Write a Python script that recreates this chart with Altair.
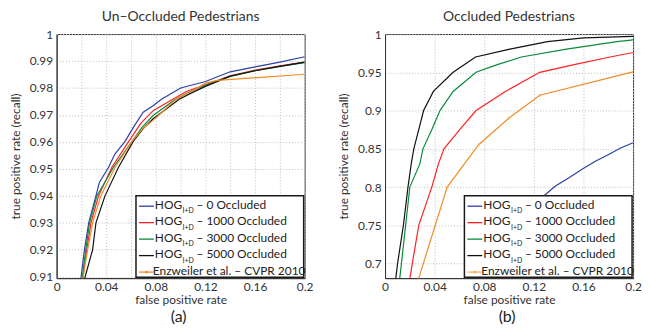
import altair as alt
import pandas as pd

FONT = "Lato"

series_names = [
    "HOG I+D – 0 Occluded",
    "HOG I+D – 1000 Occluded",
    "HOG I+D – 3000 Occluded",
    "HOG I+D – 5000 Occluded",
    "Enzweiler et al. – CVPR 2010",
]
legend_rest = ["– 0 Occluded", "– 1000 Occluded", "– 3000 Occluded", "– 5000 Occluded"]
legend_last = "Enzweiler et al. – CVPR 2010"

# ---------- (a) Un-Occluded Pedestrians ----------
a_blue_x = [0.0195, 0.0224, 0.0259, 0.0317, 0.0345, 0.042, 0.047, 0.0553, 0.062, 0.0698, 0.0778, 0.0845, 0.1, 0.12, 0.14, 0.16, 0.18, 0.2]
a_blue_y = [0.909, 0.92, 0.93, 0.94, 0.945, 0.9507, 0.9555, 0.9603, 0.9655, 0.971, 0.9734, 0.9758, 0.98, 0.9824, 0.986, 0.9878, 0.9896, 0.9916]
a_red_x = [0.021, 0.0243, 0.0277, 0.0338, 0.0447, 0.0579, 0.068, 0.0778, 0.0937, 0.105, 0.12, 0.14, 0.16, 0.18, 0.2]
a_red_y = [0.909, 0.92, 0.93, 0.94, 0.9507, 0.96, 0.967, 0.9716, 0.9758, 0.9788, 0.9812, 0.9845, 0.9866, 0.9882, 0.9896]
a_green_x = [0.0205, 0.0235, 0.0265, 0.0325, 0.046, 0.0606, 0.069, 0.0778, 0.095, 0.107, 0.12, 0.14, 0.16, 0.18, 0.2]
a_green_y = [0.909, 0.92, 0.93, 0.94, 0.9507, 0.96, 0.9655, 0.9698, 0.9755, 0.9785, 0.981, 0.9843, 0.9864, 0.988, 0.9894]
a_black_x = [0.0224, 0.029, 0.0317, 0.039, 0.05, 0.0619, 0.07, 0.0778, 0.0989, 0.108, 0.12, 0.14, 0.16, 0.18, 0.2]
a_black_y = [0.909, 0.92, 0.93, 0.94, 0.9507, 0.9603, 0.965, 0.9686, 0.9758, 0.978, 0.9806, 0.9844, 0.9864, 0.988, 0.9896]
a_orange_x = [0.021, 0.025, 0.029, 0.0356, 0.0473, 0.061, 0.07, 0.0778, 0.0963, 0.11, 0.12, 0.1298, 0.2]
a_orange_y = [0.909, 0.92, 0.93, 0.94, 0.9507, 0.9603, 0.9652, 0.968, 0.9758, 0.979, 0.9818, 0.9828, 0.9851]

# ---------- (b) Occluded Pedestrians ----------
b_blue_x = [0.0712, 0.09, 0.11, 0.1264, 0.1371, 0.148, 0.1595, 0.17, 0.1807, 0.19, 0.2]
b_blue_y = [0.681, 0.72, 0.757, 0.786, 0.801, 0.812, 0.824, 0.834, 0.843, 0.851, 0.858]
b_red_x = [0.0201, 0.022, 0.0272, 0.0377, 0.043, 0.0475, 0.0602, 0.0734, 0.097, 0.1248, 0.1525, 0.1815, 0.2]
b_red_y = [0.681, 0.7, 0.75, 0.8, 0.83, 0.85, 0.875, 0.9, 0.925, 0.95, 0.96, 0.97, 0.9759]
b_green_x = [0.0119, 0.0132, 0.0166, 0.02, 0.028, 0.0306, 0.0377, 0.0443, 0.0549, 0.0734, 0.0905, 0.11, 0.145, 0.187, 0.2]
b_green_y = [0.681, 0.7, 0.75, 0.8, 0.83, 0.85, 0.875, 0.9, 0.925, 0.95, 0.96, 0.97, 0.98, 0.99, 0.9924]
b_black_x = [0.0087, 0.0101, 0.0148, 0.0185, 0.0211, 0.0232, 0.0272, 0.0311, 0.039, 0.0549, 0.073, 0.0997, 0.131, 0.16, 0.2]
b_black_y = [0.681, 0.7, 0.75, 0.8, 0.83, 0.85, 0.875, 0.9, 0.925, 0.95, 0.97, 0.98, 0.99, 0.995, 0.997]
b_orange_x = [0.0272, 0.0501, 0.0755, 0.0997, 0.1248, 0.2]
b_orange_y = [0.681, 0.8, 0.8554, 0.89, 0.92, 0.9506]

x_ticks = [0, 0.02, 0.04, 0.06, 0.08, 0.1, 0.12, 0.14, 0.16, 0.18, 0.2]
a_y_ticks = [0.91, 0.92, 0.93, 0.94, 0.95, 0.96, 0.97, 0.98, 0.99, 1.0]
b_y_ticks = [0.7, 0.75, 0.8, 0.85, 0.9, 0.95, 1.0]
a_y_domain = [0.9095, 1.0]
b_y_domain = [0.681, 1.0]

colors_a = ["#2d3fa6", "#ff2222", "#0a8a3c", "#111111", "#f08c28"]
colors_b = ["#2d3fa6", "#ff2222", "#0a8a3c", "#111111", "#fbb060"]

W, H = 250, 246
LFS = 12  # legend font size


def build_df(curves):
    rows = []
    for name, (xs, ys) in zip(series_names, curves):
        for i, (x, y) in enumerate(zip(xs, ys)):
            rows.append({"series": name, "fpr": x, "tpr": y, "order": i})
    return pd.DataFrame(rows)


def panel(curves, y_domain, y_ticks, title, caption, colors, orange_markers):
    df = build_df(curves)
    xenc = alt.X(
        "fpr:Q",
        scale=alt.Scale(domain=[0, 0.2], nice=False, zero=False),
        axis=alt.Axis(
            values=x_ticks,
            labelExpr="round(datum.value*100) % 4 == 0 ? toString(round(datum.value*100)/100) : ''",
            title="false positive rate",
            labelFlush=False,
        ),
    )
    yenc = alt.Y(
        "tpr:Q",
        scale=alt.Scale(domain=y_domain, nice=False, zero=False),
        axis=alt.Axis(
            values=y_ticks,
            labelExpr="toString(round(datum.value*100)/100)",
            title="true positive rate (recall)",
        ),
    )
    cenc = alt.Color(
        "series:N",
        scale=alt.Scale(domain=series_names, range=colors),
        legend=None,
    )
    lines = alt.Chart(df).mark_line(strokeWidth=1.2, clip=True).encode(
        x=xenc, y=yenc, color=cenc, order="order:Q"
    )
    layers = [lines]
    if orange_markers:
        pts = alt.Chart(df[df.series == series_names[4]]).mark_point(
            filled=True, size=6, opacity=1, clip=True
        ).encode(x="fpr:Q", y="tpr:Q", color=alt.value(colors[4]))
        layers.append(pts)

    one = pd.DataFrame({"k": [0]})
    # legend box (plot-relative pixels)
    bx0, bx1, by0, by1 = W - 170, W - 1, H - 83, H - 1
    layers.append(
        alt.Chart(one).mark_rect(fill="white", stroke="#1a1a1a", strokeWidth=1.5).encode(
            x=alt.value(bx0), x2=alt.value(bx1), y=alt.value(by0), y2=alt.value(by1)
        )
    )
    row_y = [by0 + 9 + 16.6 * i for i in range(5)]
    for i, ry in enumerate(row_y):
        layers.append(
            alt.Chart(one).mark_rule(strokeWidth=1.3).encode(
                x=alt.value(bx0 + 3), x2=alt.value(bx0 + 18), y=alt.value(ry + 1.5),
                color=alt.value(colors[i]),
            )
        )
        if i < 4:
            layers.append(
                alt.Chart(one).mark_text(align="left", baseline="middle", fontSize=LFS, font=FONT, color="#222").encode(
                    x=alt.value(bx0 + 19), y=alt.value(ry), text=alt.value("HOG")
                )
            )
            layers.append(
                alt.Chart(one).mark_text(align="left", baseline="middle", fontSize=7, font=FONT, color="#222").encode(
                    x=alt.value(bx0 + 47), y=alt.value(ry + 6.5), text=alt.value("I+D")
                )
            )
            layers.append(
                alt.Chart(one).mark_text(align="left", baseline="middle", fontSize=LFS, font=FONT, color="#222").encode(
                    x=alt.value(bx0 + 61), y=alt.value(ry), text=alt.value(legend_rest[i])
                )
            )
        else:
            layers.append(
                alt.Chart(one).mark_point(filled=True, size=8, opacity=1).encode(
                    x=alt.value(bx0 + 10.5), y=alt.value(ry + 1.5), color=alt.value(colors[i])
                )
            )
            layers.append(
                alt.Chart(one).mark_text(align="left", baseline="middle", fontSize=LFS, font=FONT, color="#222").encode(
                    x=alt.value(bx0 + 17), y=alt.value(ry), text=alt.value(legend_last)
                )
            )
    layers.append(
        alt.Chart(one).mark_text(align="center", baseline="middle", fontSize=16, font=FONT, color="#222").encode(
            x=alt.value(W / 2 - 2), y=alt.value(H + 39), text=alt.value(caption)
        )
    )
    return alt.layer(*layers).properties(
        width=W,
        height=H,
        title=alt.TitleParams(title, fontSize=14, font=FONT, fontWeight="normal", color="#333", offset=4),
    )


left = panel(
    [(a_blue_x, a_blue_y), (a_red_x, a_red_y), (a_green_x, a_green_y), (a_black_x, a_black_y), (a_orange_x, a_orange_y)],
    a_y_domain, a_y_ticks, "Un–Occluded Pedestrians", "(a)", colors_a, False,
)
right = panel(
    [(b_blue_x, b_blue_y), (b_red_x, b_red_y), (b_green_x, b_green_y), (b_black_x, b_black_y), (b_orange_x, b_orange_y)],
    b_y_domain, b_y_ticks, "Occluded Pedestrians", "(b)", colors_b, True,
)

chart = alt.hconcat(left, right, spacing=23).properties(
    padding={"left": 0, "top": 0, "right": 0, "bottom": 0}
).configure_view(
    stroke="#333", strokeWidth=1
).configure_axis(
    labelFont=FONT, titleFont=FONT, labelFontSize=12, titleFontSize=12,
    labelColor="#333", titleColor="#333", titleFontWeight="normal",
    domainColor="#333", ticks=False, grid=True, gridColor="#bdbdbd",
    gridDash=[1, 2], gridWidth=1,
).configure_axisX(
    labelPadding=3, titlePadding=3,
).configure_axisY(
    labelPadding=4, titlePadding=7,
)

chart.save("out.html", embed_options={"renderer": "svg", "actions": False})
